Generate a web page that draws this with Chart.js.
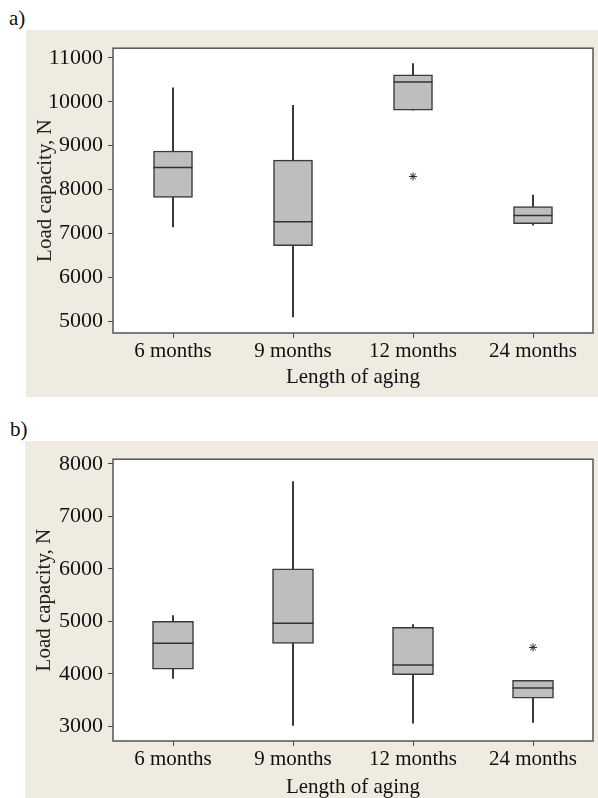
<!DOCTYPE html>
<html>
<head>
<meta charset="utf-8">
<script src="https://cdn.jsdelivr.net/npm/chart.js@4.4.1/dist/chart.umd.min.js"></script>
<style>
  html, body { margin: 0; padding: 0; background: #fff; overflow: hidden; }
  body { width: 598px; height: 798px; position: relative; font-family: "Liberation Serif", serif; }
  .tag { position: absolute; font-size: 21px; line-height: 24px; color: #111; }
  .panel { position: absolute; background: #EFEBE1; }
</style>
</head>
<body>
<div class="tag" style="left:9px;top:6px">a)</div>
<div class="panel" style="left:26px;top:30px;width:572px;height:367px"><canvas id="chartA" width="572" height="367"></canvas></div>
<div class="tag" style="left:10px;top:417px">b)</div>
<div class="panel" style="left:25px;top:441px;width:573px;height:370px"><canvas id="chartB" width="573" height="370"></canvas></div>

<script>
/* shared */
const categories = ["6 months", "9 months", "12 months", "24 months"];

/* ===== a) ===== */
const aMin = [7150, 5100, 9810, 7190];
const aQ1 = [7820, 6725, 9810, 7225];
const aMedian = [8505, 7270, 10450, 7410];
const aQ3 = [8880, 8670, 10615, 7615];
const aMax = [10316, 9918, 10870, 7873];
const aOutliers = [null, null, 8300, null];
const aTicks = [5000, 6000, 7000, 8000, 9000, 10000, 11000];

/* ===== b) ===== */
const bMin = [3915, 3020, 3060, 3075];
const bQ1 = [4090, 4578, 3984, 3538];
const bMedian = [4584, 4962, 4170, 3730];
const bQ3 = [5000, 6000, 4888, 3878];
const bMax = [5111, 7660, 4937, 3878];
const bOutliers = [null, null, null, 4504];
const bTicks = [3000, 4000, 5000, 6000, 7000, 8000];

const font = { family: "Liberation Serif", size: 21 };
const tickFont = { family: "Liberation Serif", size: 22 };
const ink = "#111";

// white plot area, median lines, frame
const boxPlugin = {
  id: "boxExtras",
  beforeDraw(chart) {
    const a = chart.chartArea, ctx = chart.ctx;
    ctx.save();
    ctx.fillStyle = "#fff";
    ctx.fillRect(a.left, a.top, a.right - a.left, a.bottom - a.top);
    ctx.restore();
  },
  afterDatasetsDraw(chart) {
    const meds = chart.options.plugins.boxExtras.medians;
    const meta = chart.getDatasetMeta(1);
    const y = chart.scales.y, ctx = chart.ctx;
    ctx.save();
    ctx.strokeStyle = "#333";
    ctx.lineWidth = 1.5;
    meta.data.forEach((el, i) => {
      const py = y.getPixelForValue(meds[i]);
      ctx.beginPath();
      ctx.moveTo(el.x - el.width / 2, py);
      ctx.lineTo(el.x + el.width / 2, py);
      ctx.stroke();
    });
    ctx.restore();
  },
  afterDraw(chart) {
    const a = chart.chartArea, ctx = chart.ctx;
    ctx.save();
    ctx.strokeStyle = "#555";
    ctx.lineWidth = 1.5;
    ctx.strokeRect(a.left, a.top, a.right - a.left, a.bottom - a.top);
    ctx.restore();
  }
};

function makeBoxChart(id, s) {
  return new Chart(document.getElementById(id), {
    type: "bar",
    data: {
      labels: categories,
      datasets: [
        {
          // whiskers
          data: s.min.map((v, i) => [v, s.max[i]]),
          backgroundColor: "#111",
          borderWidth: 0,
          barThickness: 1,
          grouped: false,
          order: 2
        },
        {
          // boxes
          data: s.q1.map((v, i) => [v, s.q3[i]]),
          backgroundColor: "#BEBEBE",
          borderColor: "#3a3a3a",
          borderWidth: 1.5,
          borderSkipped: false,
          barThickness: s.boxWidth,
          grouped: false,
          order: 1
        },
        {
          // outliers
          type: "line",
          data: s.out,
          showLine: false,
          pointStyle: "star",
          pointRadius: 4,
          borderColor: "#222",
          borderWidth: 1,
          order: 0
        }
      ]
    },
    options: {
      responsive: false,
      animation: false,
      layout: { padding: s.padding },
      plugins: {
        legend: { display: false },
        tooltip: { enabled: false },
        boxExtras: { medians: s.med }
      },
      scales: {
        x: {
          grid: { offset: false, drawOnChartArea: false, drawTicks: true, tickLength: 5, color: "#444" },
          border: { display: false },
          ticks: { font, color: ink, padding: 1, maxRotation: 0 },
          title: { display: true, text: "Length of aging", font, color: ink },
          afterFit: sc => { sc.height = s.xHeight; }
        },
        y: {
          min: s.yMin,
          max: s.yMax,
          grid: { drawOnChartArea: false, drawTicks: true, tickLength: 5, color: "#444" },
          border: { display: false },
          ticks: { font: tickFont, color: ink, padding: 5, callback: v => String(v) },
          afterBuildTicks: sc => { sc.ticks = s.ticks.map(v => ({ value: v })); },
          title: { display: true, text: "Load capacity, N", font, color: "#222" },
          afterFit: sc => { sc.width = s.yWidth; }
        }
      }
    },
    plugins: [boxPlugin]
  });
}

makeBoxChart("chartA", {
  min: aMin, q1: aQ1, med: aMedian, q3: aQ3, max: aMax, out: aOutliers, ticks: aTicks,
  yMin: 4734, yMax: 11221, boxWidth: 39,
  padding: { top: 10, right: 2, bottom: 3, left: 3 }, yWidth: 84, xHeight: 61
});

makeBoxChart("chartB", {
  min: bMin, q1: bQ1, med: bMedian, q3: bQ3, max: bMax, out: bOutliers, ticks: bTicks,
  yMin: 2722, yMax: 8087, boxWidth: 41,
  padding: { top: 11, right: 1, bottom: 7, left: 3 }, yWidth: 85, xHeight: 63
});
</script>
</body>
</html>
